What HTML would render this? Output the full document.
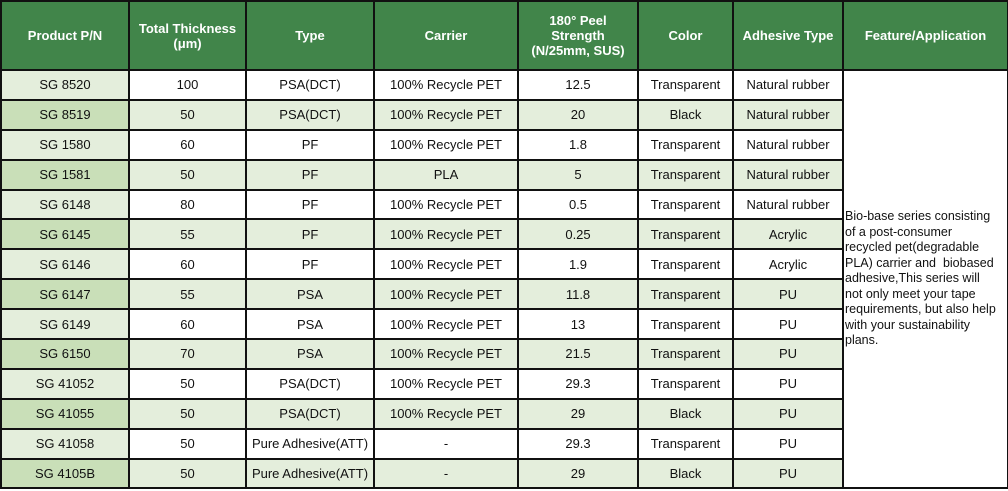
<!DOCTYPE html>
<html><head><style>
body{margin:0;background:#fff;width:1008px;height:491px;overflow:hidden}
table{border-collapse:collapse;table-layout:fixed;width:1007px;font-family:"Liberation Sans",sans-serif;font-size:13px;color:#111}
td,th{border:2px solid #111;text-align:center;padding:0;height:27.9px;line-height:15px}
th{background:#41854a;color:#fff;font-weight:bold;height:67px;font-size:13px}
tr.o td{background:#fff}
tr.o td:first-child{background:#e4eedc}
tr.e td{background:#e4eedc}
tr.e td:first-child{background:#c9dfb8}
td.f{background:#fff!important;text-align:left;font-size:12.5px;line-height:15.5px;vertical-align:middle;padding:0 8px 0 1px}
</style></head><body>
<table>
<colgroup><col style="width:128px"><col style="width:117px"><col style="width:128px"><col style="width:144px"><col style="width:120px"><col style="width:95px"><col style="width:110px"><col style="width:165px"></colgroup>
<tr><th>Product P/N</th><th>Total Thickness<br>(μm)</th><th>Type</th><th>Carrier</th><th>180° Peel<br>Strength<br>(N/25mm, SUS)</th><th>Color</th><th>Adhesive Type</th><th>Feature/Application</th></tr>
<tr class="o"><td>SG 8520</td><td>100</td><td>PSA(DCT)</td><td>100% Recycle PET</td><td>12.5</td><td>Transparent</td><td>Natural rubber</td><td class="f" rowspan="14">Bio-base series consisting of a post-consumer recycled pet(degradable PLA) carrier and &nbsp;biobased adhesive,This series will not only meet your tape requirements, but also help with your sustainability plans.</td></tr>
<tr class="e"><td>SG 8519</td><td>50</td><td>PSA(DCT)</td><td>100% Recycle PET</td><td>20</td><td>Black</td><td>Natural rubber</td></tr>
<tr class="o"><td>SG 1580</td><td>60</td><td>PF</td><td>100% Recycle PET</td><td>1.8</td><td>Transparent</td><td>Natural rubber</td></tr>
<tr class="e"><td>SG 1581</td><td>50</td><td>PF</td><td>PLA</td><td>5</td><td>Transparent</td><td>Natural rubber</td></tr>
<tr class="o"><td>SG 6148</td><td>80</td><td>PF</td><td>100% Recycle PET</td><td>0.5</td><td>Transparent</td><td>Natural rubber</td></tr>
<tr class="e"><td>SG 6145</td><td>55</td><td>PF</td><td>100% Recycle PET</td><td>0.25</td><td>Transparent</td><td>Acrylic</td></tr>
<tr class="o"><td>SG 6146</td><td>60</td><td>PF</td><td>100% Recycle PET</td><td>1.9</td><td>Transparent</td><td>Acrylic</td></tr>
<tr class="e"><td>SG 6147</td><td>55</td><td>PSA</td><td>100% Recycle PET</td><td>11.8</td><td>Transparent</td><td>PU</td></tr>
<tr class="o"><td>SG 6149</td><td>60</td><td>PSA</td><td>100% Recycle PET</td><td>13</td><td>Transparent</td><td>PU</td></tr>
<tr class="e"><td>SG 6150</td><td>70</td><td>PSA</td><td>100% Recycle PET</td><td>21.5</td><td>Transparent</td><td>PU</td></tr>
<tr class="o"><td>SG 41052</td><td>50</td><td>PSA(DCT)</td><td>100% Recycle PET</td><td>29.3</td><td>Transparent</td><td>PU</td></tr>
<tr class="e"><td>SG 41055</td><td>50</td><td>PSA(DCT)</td><td>100% Recycle PET</td><td>29</td><td>Black</td><td>PU</td></tr>
<tr class="o"><td>SG 41058</td><td>50</td><td>Pure Adhesive(ATT)</td><td>-</td><td>29.3</td><td>Transparent</td><td>PU</td></tr>
<tr class="e"><td>SG 4105B</td><td>50</td><td>Pure Adhesive(ATT)</td><td>-</td><td>29</td><td>Black</td><td>PU</td></tr>
</table>
</body></html>
